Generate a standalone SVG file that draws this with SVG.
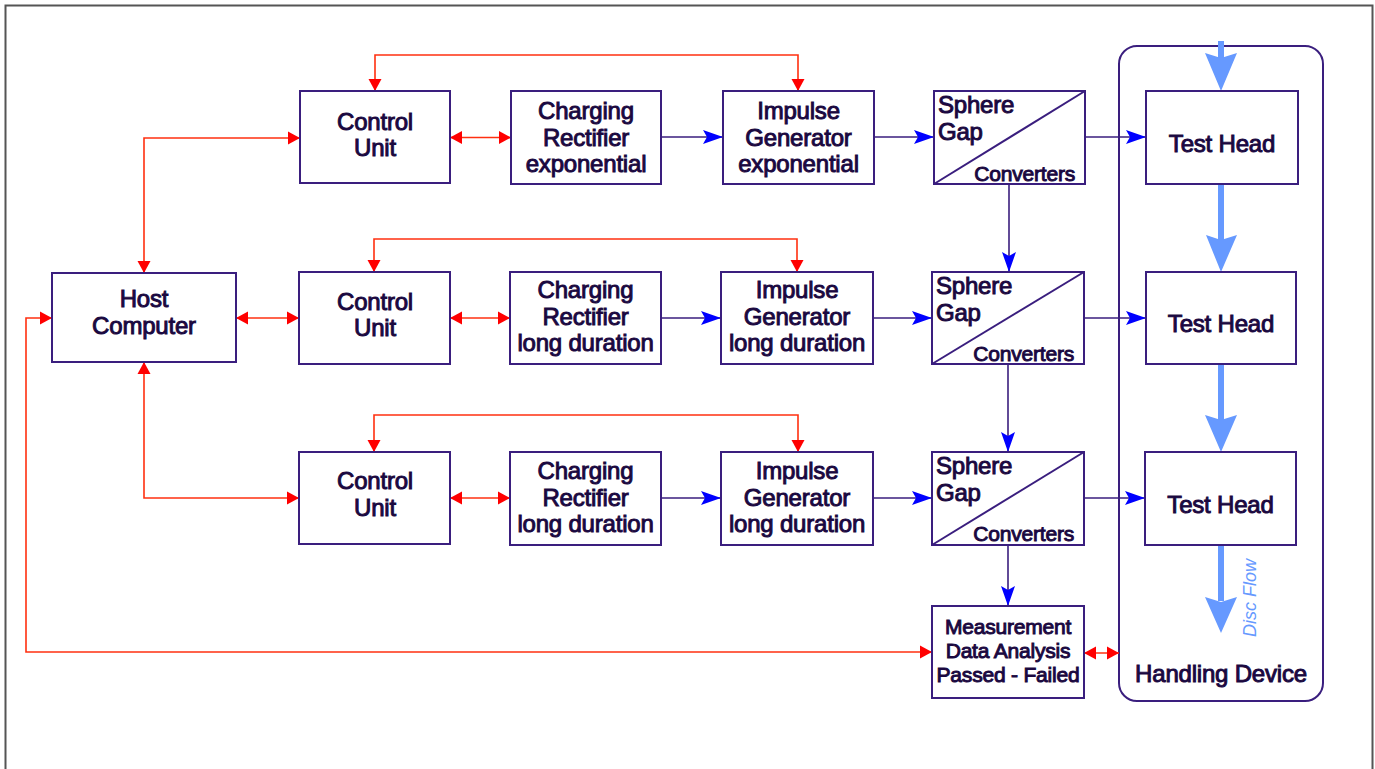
<svg xmlns="http://www.w3.org/2000/svg" width="1375" height="769" viewBox="0 0 1375 769">
<defs>
<style>
.box{fill:#fff;stroke:#3a1e7e;stroke-width:2}
.t{font-family:"Liberation Sans",Arial,sans-serif;font-size:24px;fill:#1a0840;stroke:#1a0840;stroke-width:0.95;letter-spacing:-0.2px;text-anchor:middle}
.s{text-anchor:start}
.e{text-anchor:end;font-size:21px}
.m{font-size:21px}
.red{fill:none;stroke:#ff3010;stroke-width:1.6;marker-start:url(#ra);marker-end:url(#ra)}
.blue{fill:none;stroke:#3a1e7e;stroke-width:1.6;marker-end:url(#ba)}
.big{fill:#6699ff;stroke:none}
</style>
<marker id="ra" markerUnits="userSpaceOnUse" markerWidth="13" markerHeight="14" refX="12" refY="6.5" orient="auto-start-reverse" viewBox="0 0 13 13">
<path d="M0,0 L12,6.5 L0,13 z" fill="#ff0000"/>
</marker>
<marker id="ba" markerUnits="userSpaceOnUse" markerWidth="20" markerHeight="15" refX="20" refY="7" orient="auto" viewBox="0 0 20 14">
<path d="M0,0 L20,7 L0,14 L4,7 z" fill="#0000ff"/>
</marker>
</defs>
<rect width="1375" height="769" fill="#fff"/>
<path d="M5.5,775 L5.5,5.5 L1372.5,5.5 L1372.5,775" fill="none" stroke="#555" stroke-width="2"/>

<g id="handling-device">
<rect x="1119" y="46" width="204" height="655" rx="18" fill="none" stroke="#3a1e7e" stroke-width="2"/>
<text class="t" x="1221" y="682">Handling Device</text>
<text x="1256" y="598" transform="rotate(-90 1256 598)" font-family="'Liberation Sans',Arial,sans-serif" font-size="18" font-style="italic" fill="#6699ff" text-anchor="middle">Disc Flow</text>
</g>

<g id="connectors">
<path class="red" d="M144,273 L144,138 L300,138"/>
<path class="red" d="M236,318 L299,318"/>
<path class="red" d="M144,362 L144,498 L299,498"/>
<path class="red" d="M52,318 L26,318 L26,652 L932,652"/>
<path class="red" d="M1084,653 L1119,653"/>
<path class="red" d="M375,91 L375,55 L798,55 L798,91"/>
<path class="red" d="M374,272 L374,239 L797,239 L797,272"/>
<path class="red" d="M374,452 L374,415 L798,415 L798,452"/>
<path class="red" d="M450,137.5 L511,137.5"/>
<path class="red" d="M450,318 L510,318"/>
<path class="red" d="M450,498 L510,498"/>
<path class="blue" d="M661,137 L723,137"/>
<path class="blue" d="M874,137 L934,137"/>
<path class="blue" d="M1085,137 L1146,137"/>
<path class="blue" d="M661,318 L721,318"/>
<path class="blue" d="M873,318 L932,318"/>
<path class="blue" d="M1084,318 L1146,318"/>
<path class="blue" d="M661,498 L721,498"/>
<path class="blue" d="M873,498 L932,498"/>
<path class="blue" d="M1084,498 L1145,498"/>
<path class="blue" d="M1009,184 L1009,272"/>
<path class="blue" d="M1008,364 L1008,452"/>
<path class="blue" d="M1008,545 L1008,606"/>
<rect class="big" x="1218" y="41" width="6" height="18"/>
<path class="big" d="M1205,53 L1221,58 L1237,53 L1221,91 z"/>
<rect class="big" x="1218" y="184" width="6" height="56"/>
<path class="big" d="M1206,235 L1221,240 L1237,235 L1221,272 z"/>
<rect class="big" x="1218" y="364" width="6" height="56"/>
<path class="big" d="M1205,415 L1221,420 L1237,415 L1221,452 z"/>
<rect class="big" x="1218" y="545" width="6" height="56"/>
<path class="big" d="M1205,597 L1221,602 L1237,597 L1221,633 z"/>
</g>

<g id="host-computer">
<rect class="box" x="52" y="273" width="184" height="89"/>
<text class="t" x="144" y="307">Host</text>
<text class="t" x="144" y="334">Computer</text>
</g>

<g id="control-unit-1">
<rect class="box" x="300" y="91" width="150" height="92"/>
<text class="t" x="375" y="130">Control</text>
<text class="t" x="375" y="156">Unit</text>
</g>
<g id="control-unit-2">
<rect class="box" x="299" y="272" width="151" height="92"/>
<text class="t" x="375" y="310">Control</text>
<text class="t" x="375" y="336">Unit</text>
</g>
<g id="control-unit-3">
<rect class="box" x="299" y="452" width="151" height="92"/>
<text class="t" x="375" y="489">Control</text>
<text class="t" x="375" y="516">Unit</text>
</g>

<g id="charging-rectifier-1">
<rect class="box" x="511" y="91" width="150" height="93"/>
<text class="t" x="586" y="119">Charging</text>
<text class="t" x="586" y="146">Rectifier</text>
<text class="t" x="586" y="172">exponential</text>
</g>
<g id="charging-rectifier-2">
<rect class="box" x="510" y="272" width="151" height="92"/>
<text class="t" x="585.5" y="298">Charging</text>
<text class="t" x="585.5" y="325">Rectifier</text>
<text class="t" x="585.5" y="351">long duration</text>
</g>
<g id="charging-rectifier-3">
<rect class="box" x="510" y="452" width="151" height="93"/>
<text class="t" x="585.5" y="479">Charging</text>
<text class="t" x="585.5" y="506">Rectifier</text>
<text class="t" x="585.5" y="532">long duration</text>
</g>

<g id="impulse-generator-1">
<rect class="box" x="723" y="91" width="151" height="93"/>
<text class="t" x="798.5" y="119">Impulse</text>
<text class="t" x="798.5" y="146">Generator</text>
<text class="t" x="798.5" y="172">exponential</text>
</g>
<g id="impulse-generator-2">
<rect class="box" x="721" y="272" width="152" height="92"/>
<text class="t" x="797" y="298">Impulse</text>
<text class="t" x="797" y="325">Generator</text>
<text class="t" x="797" y="351">long duration</text>
</g>
<g id="impulse-generator-3">
<rect class="box" x="721" y="452" width="152" height="93"/>
<text class="t" x="797" y="479">Impulse</text>
<text class="t" x="797" y="506">Generator</text>
<text class="t" x="797" y="532">long duration</text>
</g>

<g id="sphere-gap-1">
<rect class="box" x="934" y="91" width="151" height="93"/>
<path d="M934,184 L1085,91" stroke="#3a1e7e" stroke-width="2"/>
<text class="t s" x="938" y="113">Sphere</text>
<text class="t s" x="938" y="140">Gap</text>
<text class="t e" x="1075" y="181">Converters</text>
</g>
<g id="sphere-gap-2">
<rect class="box" x="932" y="272" width="152" height="92"/>
<path d="M932,364 L1084,272" stroke="#3a1e7e" stroke-width="2"/>
<text class="t s" x="936" y="294">Sphere</text>
<text class="t s" x="936" y="321">Gap</text>
<text class="t e" x="1074" y="361">Converters</text>
</g>
<g id="sphere-gap-3">
<rect class="box" x="932" y="452" width="152" height="93"/>
<path d="M932,545 L1084,452" stroke="#3a1e7e" stroke-width="2"/>
<text class="t s" x="936" y="474">Sphere</text>
<text class="t s" x="936" y="501">Gap</text>
<text class="t e" x="1074" y="541">Converters</text>
</g>

<g id="test-head-1">
<rect class="box" x="1146" y="91" width="152" height="93"/>
<text class="t" x="1222" y="152">Test Head</text>
</g>
<g id="test-head-2">
<rect class="box" x="1146" y="272" width="150" height="92"/>
<text class="t" x="1221" y="332">Test Head</text>
</g>
<g id="test-head-3">
<rect class="box" x="1145" y="452" width="151" height="93"/>
<text class="t" x="1220.5" y="513">Test Head</text>
</g>

<g id="measurement">
<rect class="box" x="932" y="606" width="152" height="92"/>
<text class="t m" x="1008" y="634">Measurement</text>
<text class="t m" x="1008" y="658">Data Analysis</text>
<text class="t m" x="1008" y="682">Passed - Failed</text>
</g>
</svg>
